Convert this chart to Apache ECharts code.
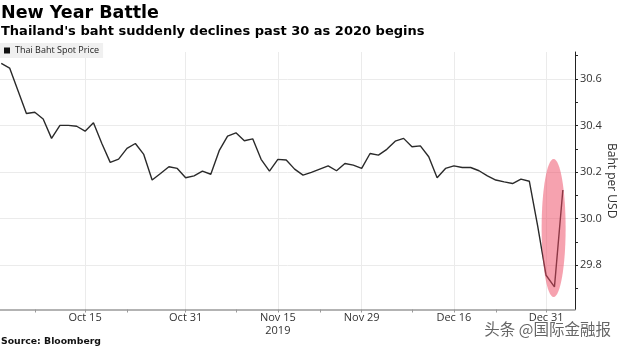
<!DOCTYPE html>
<html><head><meta charset="utf-8">
<script src="https://cdn.jsdelivr.net/npm/echarts@6/dist/echarts.min.js"></script>
<style>html,body{margin:0;padding:0;background:#fff}#c{width:620px;height:348px}</style>
</head><body><div id="c"></div>
<script>
// Business days (Bloomberg-style trading-day axis)
const dates = [
  'Oct 1','Oct 2','Oct 3','Oct 4','Oct 7','Oct 8','Oct 9','Oct 10','Oct 11','Oct 14','Oct 15','Oct 16','Oct 17','Oct 18','Oct 21','Oct 22','Oct 23','Oct 24','Oct 25','Oct 28','Oct 29','Oct 30','Oct 31',
  'Nov 1','Nov 4','Nov 5','Nov 6','Nov 7','Nov 8','Nov 11','Nov 12','Nov 13','Nov 14','Nov 15','Nov 18','Nov 19','Nov 20','Nov 21','Nov 22','Nov 25','Nov 26','Nov 27','Nov 28','Nov 29',
  'Dec 2','Dec 3','Dec 4','Dec 5','Dec 6','Dec 9','Dec 10','Dec 11','Dec 12','Dec 13','Dec 16','Dec 17','Dec 18','Dec 19','Dec 20','Dec 23','Dec 24','Dec 25','Dec 26','Dec 27','Dec 30','Dec 31',
  'Jan 1','Jan 2'
];
const values = [
  30.667,30.647,30.55,30.452,30.457,30.428,30.345,30.401,30.401,30.397,30.376,30.412,30.323,30.242,30.256,30.302,30.323,30.276,30.166,30.194,30.223,30.216,30.176,
  30.184,30.204,30.191,30.292,30.355,30.369,30.335,30.343,30.255,30.204,30.255,30.252,30.213,30.187,30.199,30.213,30.227,30.206,30.237,30.230,30.216,
  30.280,30.273,30.298,30.333,30.345,30.309,30.313,30.266,30.176,30.216,30.227,30.220,30.220,30.206,30.184,30.166,30.158,30.151,30.170,30.161,29.968,29.757,
  29.707,30.123
];
const xLabelDates = ['Oct 15','Oct 31','Nov 15','Nov 29','Dec 16','Dec 31'];
const xLabelTexts = ['Oct 15','Oct 31','Nov 15\n2019','Nov 29','Dec 16','Dec 31'];
const xMinorDates = ['Oct 7','Oct 22','Nov 8','Nov 22','Dec 9','Dec 23'];
const yLabelValues = [29.8, 30.0, 30.2, 30.4, 30.6];
const yMinorValues = [29.7, 29.9, 30.1, 30.3, 30.5, 30.7];
const seriesName = 'Thai Baht Spot Price';

const xLabelIdx = xLabelDates.map(d => dates.indexOf(d));
const xMinorIdx = xMinorDates.map(d => dates.indexOf(d));
const seriesData = values.map((v, i) => [i, v]);

const X_MIN = -0.15, X_MAX = 68.45, Y_MIN = 29.61, Y_MAX = 30.716;
const tickFont = 'Open Sans';

const chart = echarts.init(document.getElementById('c'), null, {renderer: 'canvas'});
chart.setOption({
  animation: false,
  backgroundColor: '#fff',
  title: [
    {text: 'New Year Battle', left: 1, top: 4, padding: 0,
     textStyle: {fontFamily: 'DejaVu Sans', fontWeight: 'bold', fontSize: 17.5, color: '#000'}},
    {text: "Thailand's baht suddenly declines past 30 as 2020 begins", left: 1, top: 25, padding: 0,
     textStyle: {fontFamily: 'DejaVu Sans', fontWeight: 'bold', fontSize: 13, color: '#000'}},
    {text: 'Source: Bloomberg', left: 1, top: 337, padding: 0,
     textStyle: {fontFamily: 'DejaVu Sans', fontWeight: 'bold', fontSize: 9.3, color: '#111'}}
  ],
  legend: {
    data: [{name: seriesName, icon: 'rect'}],
    left: 0, top: 43, itemWidth: 6, itemHeight: 6,
    padding: [3, 4, 3, 4], backgroundColor: '#f0f0f0',
    textStyle: {fontFamily: tickFont, fontSize: 9, color: '#222'},
    selectedMode: false
  },
  grid: {left: 0, right: 45, top: 52, bottom: 38.5, containLabel: false, outerBoundsMode: 'none'},
  xAxis: [
    {type: 'value', min: X_MIN, max: X_MAX,
     axisLine: {show: true, onZero: false, lineStyle: {color: '#9a9a9a', width: 1.5}},
     axisTick: {show: true, customValues: xLabelIdx, length: 3, lineStyle: {color: '#999'}},
     axisLabel: {customValues: xLabelIdx, color: '#333', fontSize: 11, fontFamily: tickFont, margin: 2, lineHeight: 13,
       formatter: v => { const k = xLabelIdx.indexOf(Math.round(v)); return k >= 0 ? xLabelTexts[k] : ''; }},
     splitLine: {show: true, lineStyle: {color: '#ebebeb', width: 1}}},
    {type: 'value', min: X_MIN, max: X_MAX, position: 'bottom',
     axisLine: {show: false, onZero: false},
     axisTick: {show: true, customValues: xMinorIdx, length: 3, lineStyle: {color: '#999'}},
     axisLabel: {show: false}, splitLine: {show: false}}
  ],
  yAxis: [
    {type: 'value', position: 'right', min: Y_MIN, max: Y_MAX,
     name: 'Baht per USD', nameLocation: 'middle', nameRotate: -90, nameGap: 30, nameMoveOverlap: false,
     nameTextStyle: {fontFamily: tickFont, fontSize: 12, color: '#333'},
     axisLine: {show: true, onZero: false, lineStyle: {color: '#222', width: 1}},
     axisTick: {show: true, customValues: yLabelValues, length: 3, lineStyle: {color: '#222'}},
     axisLabel: {customValues: yLabelValues, formatter: v => v.toFixed(1), margin: 5, color: '#333', fontSize: 11, fontFamily: tickFont},
     splitLine: {show: true, lineStyle: {color: '#ebebeb', width: 1}}},
    {type: 'value', position: 'right', min: Y_MIN, max: Y_MAX,
     axisLine: {show: false, onZero: false},
     axisTick: {show: true, customValues: yMinorValues, length: 3, lineStyle: {color: '#222'}},
     axisLabel: {show: false}, splitLine: {show: false}}
  ],
  series: [{
    name: seriesName, type: 'line', xAxisIndex: 0, yAxisIndex: 0,
    data: seriesData, showSymbol: false, symbol: 'none',
    lineStyle: {color: '#2a2a2a', width: 1.4}, itemStyle: {color: '#111'}
  }]
});

const c = chart.convertToPixel({xAxisIndex: 0, yAxisIndex: 0}, [65.9, 29.96]);
chart.setOption({
  graphic: [
    {type: 'ellipse', z: 100, shape: {cx: c[0], cy: c[1], rx: 12, ry: 69},
     style: {fill: 'rgba(238,70,95,0.5)'}},
    {type: 'text', right: 8, bottom: 10, z: 100,
     style: {text: '头条 @国际金融报', fontFamily: 'Noto Sans CJK SC', fontSize: 15.5, fill: '#666', stroke: '#fff', lineWidth: 2}}
  ]
});
</script>
</body></html>
